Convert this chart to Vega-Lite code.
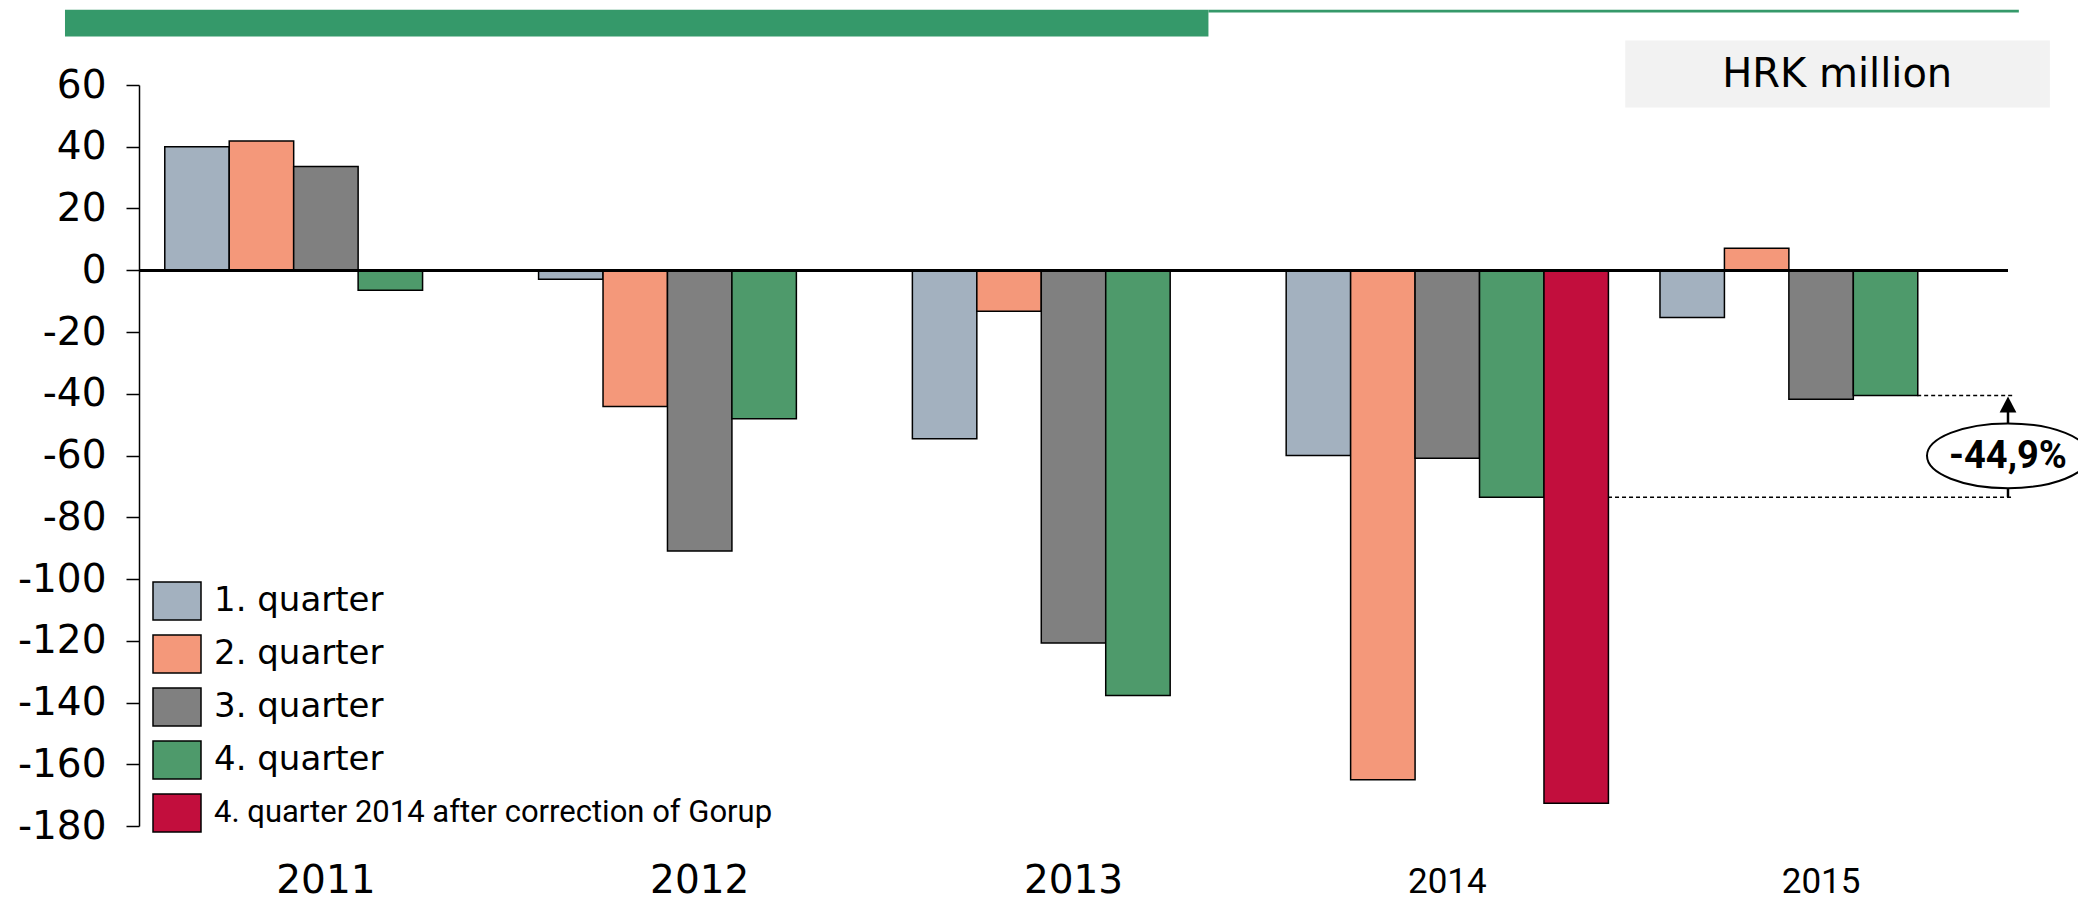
{
  "$schema": "https://vega.github.io/schema/vega-lite/v6.json",
  "width": 1869,
  "height": 741,
  "autosize": {"type": "none"},
  "padding": {"left": 139, "top": 85, "right": 70, "bottom": 78},
  "background": "white",
  "config": {"view": {"stroke": null}, "font": "DejaVu Sans"},
  "data": {"values": [
    {"year": "2011", "quarter": "1. quarter", "value": 40.0},
    {"year": "2011", "quarter": "2. quarter", "value": 41.9},
    {"year": "2011", "quarter": "3. quarter", "value": 33.6},
    {"year": "2011", "quarter": "4. quarter", "value": -6.5},
    {"year": "2012", "quarter": "1. quarter", "value": -2.9},
    {"year": "2012", "quarter": "2. quarter", "value": -44.1},
    {"year": "2012", "quarter": "3. quarter", "value": -90.9},
    {"year": "2012", "quarter": "4. quarter", "value": -48.1},
    {"year": "2013", "quarter": "1. quarter", "value": -54.6},
    {"year": "2013", "quarter": "2. quarter", "value": -13.3},
    {"year": "2013", "quarter": "3. quarter", "value": -120.7},
    {"year": "2013", "quarter": "4. quarter", "value": -137.7},
    {"year": "2014", "quarter": "1. quarter", "value": -60.0},
    {"year": "2014", "quarter": "2. quarter", "value": -165.0},
    {"year": "2014", "quarter": "3. quarter", "value": -60.9},
    {"year": "2014", "quarter": "4. quarter", "value": -73.5},
    {"year": "2014", "quarter": "4. quarter 2014 after correction of Gorup", "value": -172.6},
    {"year": "2015", "quarter": "1. quarter", "value": -15.3},
    {"year": "2015", "quarter": "2. quarter", "value": 7.1},
    {"year": "2015", "quarter": "3. quarter", "value": -41.8},
    {"year": "2015", "quarter": "4. quarter", "value": -40.6}
  ]},
  "resolve": {"scale": {"x": "independent"}, "axis": {"x": "independent"}},
  "layer": [
    {
      "mark": {"type": "bar", "stroke": "#000", "strokeWidth": 1.5},
      "encoding": {
        "x": {"field": "year", "type": "nominal", "sort": ["2011", "2012", "2013", "2014", "2015"],
          "scale": {"paddingInner": 0, "paddingOuter": 0},
          "axis": {"title": null, "domain": false, "ticks": false, "labelAngle": 0,
            "labelBaseline": "alphabetic", "labelPadding": 66, "labelColor": "#000",
            "labelFont": {"condition": {"test": "datum.value == '2014' || datum.value == '2015'", "value": "Roboto"}, "value": "DejaVu Sans"},
            "labelFontSize": {"condition": {"test": "datum.value == '2014' || datum.value == '2015'", "value": 35}, "value": 39}}},
        "xOffset": {"field": "quarter", "type": "nominal",
          "sort": ["1. quarter", "2. quarter", "3. quarter", "4. quarter", "4. quarter 2014 after correction of Gorup"],
          "scale": {"domain": ["1. quarter", "2. quarter", "3. quarter", "4. quarter", "4. quarter 2014 after correction of Gorup"], "paddingInner": 0, "paddingOuter": 0.4}},
        "y": {"field": "value", "type": "quantitative",
          "scale": {"domain": [-180, 60], "nice": false},
          "axis": {"title": null, "grid": false, "values": [-180, -160, -140, -120, -100, -80, -60, -40, -20, 0, 20, 40, 60],
            "labelExpr": "datum.value < 0 ? '-' + abs(datum.value) : '' + datum.value",
            "labelFont": "DejaVu Sans", "labelFontSize": 39, "labelColor": "#000", "labelPadding": 20, "labelFlush": false,
            "domainColor": "#000", "domainWidth": 1.5, "tickColor": "#000", "tickWidth": 1.5, "tickSize": 13}},
        "color": {"field": "quarter", "type": "nominal",
          "scale": {"domain": ["1. quarter", "2. quarter", "3. quarter", "4. quarter", "4. quarter 2014 after correction of Gorup"],
            "range": ["#A3B1BF", "#F4987A", "#808080", "#4E9A6B", "#C20E3D"]},
          "legend": {"orient": "none", "legendX": 13, "legendY": 491, "title": null, "padding": 0,
            "symbolType": "M -1 -0.79 L 1 -0.79 L 1 0.79 L -1 0.79 Z", "symbolSize": 2304,
            "symbolStrokeColor": "#000", "symbolStrokeWidth": 1.5, "symbolOpacity": 1, "symbolOffset": 0,
            "labelOffset": 12, "rowPadding": 6, "labelLimit": 2000, "labelColor": "#000", "labelBaseline": "middle",
            "labelFont": {"expr": "datum.value == '4. quarter 2014 after correction of Gorup' ? 'Roboto' : 'DejaVu Sans'"},
            "labelFontSize": {"expr": "datum.value == '4. quarter 2014 after correction of Gorup' ? 31 : 34"}}}
      }
    },
    {
      "mark": {"type": "rule", "color": "#000", "strokeWidth": 2.5},
      "encoding": {"y": {"datum": 0, "type": "quantitative", "scale": {"domain": [-180, 60], "nice": false}}}
    },
    {
      "data": {"values": [{}]},
      "mark": {"type": "rect", "color": "#35996A"},
      "encoding": {
        "x": {"datum": -0.198, "type": "quantitative", "scale": {"domain": [0, 5], "nice": false, "zero": false}, "axis": null},
        "x2": {"datum": 2.861},
        "y": {"datum": 84.4, "type": "quantitative", "scale": {"domain": [-180, 60], "nice": false}},
        "y2": {"datum": 75.7}
      }
    },
    {
      "data": {"values": [{}]},
      "mark": {"type": "rect", "color": "#35996A"},
      "encoding": {
        "x": {"datum": 2.861, "type": "quantitative", "scale": {"domain": [0, 5], "nice": false, "zero": false}, "axis": null},
        "x2": {"datum": 5.029},
        "y": {"datum": 84.4, "type": "quantitative", "scale": {"domain": [-180, 60], "nice": false}},
        "y2": {"datum": 83.5}
      }
    },
    {
      "data": {"values": [{}]},
      "mark": {"type": "rect", "color": "#F2F2F2"},
      "encoding": {
        "x": {"datum": 3.976, "type": "quantitative", "scale": {"domain": [0, 5], "nice": false, "zero": false}, "axis": null},
        "x2": {"datum": 5.112},
        "y": {"datum": 74.4, "type": "quantitative", "scale": {"domain": [-180, 60], "nice": false}},
        "y2": {"datum": 52.7}
      }
    },
    {
      "data": {"values": [{}]},
      "mark": {"type": "text", "text": "HRK million", "font": "DejaVu Sans", "fontSize": 40, "color": "#000", "align": "center", "baseline": "middle"},
      "encoding": {
        "x": {"datum": 4.543, "type": "quantitative", "scale": {"domain": [0, 5], "nice": false, "zero": false}, "axis": null},
        "y": {"datum": 63.4, "type": "quantitative", "scale": {"domain": [-180, 60], "nice": false}}
      }
    },
    {
      "data": {"values": [{}]},
      "mark": {"type": "rule", "color": "#000", "strokeWidth": 1.5, "strokeDash": [4, 3]},
      "encoding": {
        "x": {"datum": 4.757, "type": "quantitative", "scale": {"domain": [0, 5], "nice": false, "zero": false}, "axis": null},
        "x2": {"datum": 5.013},
        "y": {"datum": -40.6, "type": "quantitative", "scale": {"domain": [-180, 60], "nice": false}}
      }
    },
    {
      "data": {"values": [{}]},
      "mark": {"type": "rule", "color": "#000", "strokeWidth": 1.5, "strokeDash": [4, 3]},
      "encoding": {
        "x": {"datum": 3.930, "type": "quantitative", "scale": {"domain": [0, 5], "nice": false, "zero": false}, "axis": null},
        "x2": {"datum": 5.013},
        "y": {"datum": -73.5, "type": "quantitative", "scale": {"domain": [-180, 60], "nice": false}}
      }
    },
    {
      "data": {"values": [{}]},
      "mark": {"type": "rule", "color": "#000", "strokeWidth": 2.5},
      "encoding": {
        "x": {"datum": 5.0, "type": "quantitative", "scale": {"domain": [0, 5], "nice": false, "zero": false}, "axis": null},
        "y": {"datum": -73.5, "type": "quantitative", "scale": {"domain": [-180, 60], "nice": false}},
        "y2": {"datum": -45.0}
      }
    },
    {
      "data": {"values": [{}]},
      "mark": {"type": "point", "shape": "M 0 -1 L 1.05 1 L -1.05 1 Z", "size": 256, "filled": true, "color": "#000", "opacity": 1},
      "encoding": {
        "x": {"datum": 5.0, "type": "quantitative", "scale": {"domain": [0, 5], "nice": false, "zero": false}, "axis": null},
        "y": {"datum": -43.5, "type": "quantitative", "scale": {"domain": [-180, 60], "nice": false}}
      }
    },
    {
      "data": {"values": [{}]},
      "mark": {"type": "point", "shape": "M -1 0 A 1 0.4 0 1 0 1 0 A 1 0.4 0 1 0 -1 0 Z", "size": 26244, "filled": false, "fill": "#fff", "fillOpacity": 1, "stroke": "#000", "strokeWidth": 2, "opacity": 1},
      "encoding": {
        "x": {"datum": 5.0, "type": "quantitative", "scale": {"domain": [0, 5], "nice": false, "zero": false}, "axis": null},
        "y": {"datum": -60.1, "type": "quantitative", "scale": {"domain": [-180, 60], "nice": false}}
      }
    },
    {
      "data": {"values": [{}]},
      "mark": {"type": "text", "text": "-44,9%", "font": "Roboto", "fontWeight": "bold", "fontSize": 38, "color": "#000", "align": "center", "baseline": "middle"},
      "encoding": {
        "x": {"datum": 5.0, "type": "quantitative", "scale": {"domain": [0, 5], "nice": false, "zero": false}, "axis": null},
        "y": {"datum": -60.4, "type": "quantitative", "scale": {"domain": [-180, 60], "nice": false}}
      }
    }
  ]
}
